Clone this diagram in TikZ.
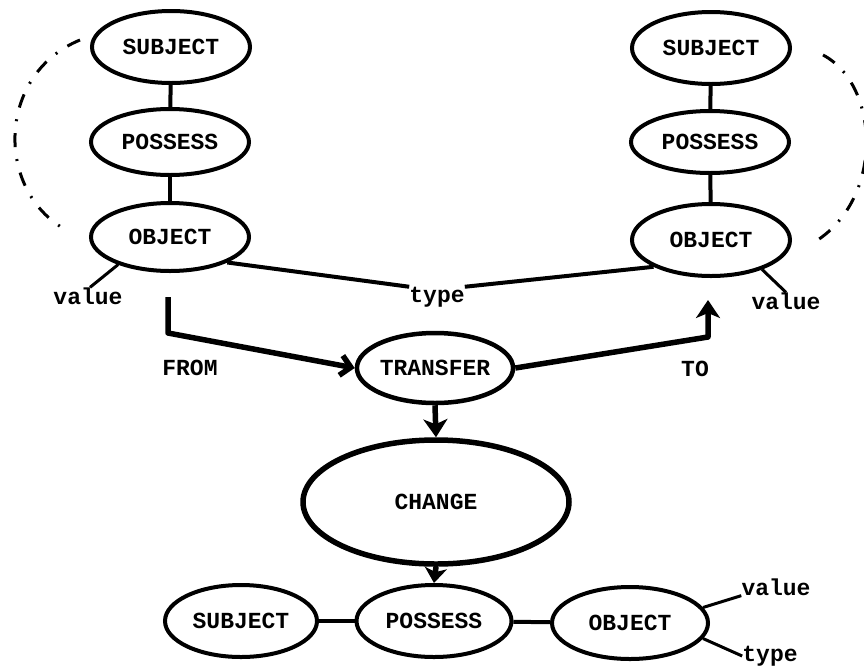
\documentclass[tikz,border=0pt]{standalone}
\usepackage{fontspec}
\setmonofont{Liberation Mono}
\usetikzlibrary{shapes.geometric,arrows.meta}
\begin{document}
\begin{tikzpicture}[x=1pt,y=-1pt,
  every node/.style={font=\ttfamily\bfseries\fontsize{23}{26}\selectfont},
  ell/.style={ellipse,draw,line width=4pt,inner sep=0pt,minimum width=158pt,minimum height=70pt},
  lbl/.style={inner sep=0pt},
  link/.style={line width=4pt},
  thinlink/.style={line width=3pt},
  heavy/.style={line width=5.5pt,line join=round},
  orbit/.style={line width=3pt,dash pattern=on 14pt off 12pt on 2pt off 12pt},
  barb/.style={-{Straight Barb[length=10pt,width=20pt]}},
  fat/.style={-{Stealth[length=18pt,width=24pt,inset=5pt]}}]
\useasboundingbox (0,0) rectangle (864,667);
\clip (0,0) rectangle (864,667);

% top left column
\node[ell,minimum height=72pt] (ls) at (171,47) {SUBJECT};
\node[ell,minimum height=66pt] (lp) at (170,142) {POSSESS};
\node[ell,minimum height=68pt] (lo) at (170,237) {OBJECT};
% top right column
\node[ell,minimum height=72pt] (rs) at (711,48) {SUBJECT};
\node[ell,minimum height=62pt] (rp) at (710,142) {POSSESS};
\node[ell,minimum height=72pt] (ro) at (711,240) {OBJECT};
% middle
\node[ell,line width=4.5pt,minimum width=156pt,minimum height=70pt] (tr) at (435,368) {TRANSFER};
\node[ell,line width=5.5pt,minimum width=266pt,minimum height=124pt] (ch) at (436,502) {CHANGE};
% bottom row
\node[ell,minimum width=152pt,minimum height=72pt] (bs) at (241,621) {SUBJECT};
\node[ell,minimum width=155pt,minimum height=72pt] (bp) at (434,621) {POSSESS};
\node[ell,minimum width=156pt,minimum height=72pt] (bo) at (630,623) {OBJECT};

% labels
\node[lbl] (lval) at (88,296) {value};
\node[lbl] (rval) at (786,301) {value};
\node[lbl] (lty) at (437,297) {type};
\node[lbl] (from) at (190,368) {FROM};
\node[lbl] (to) at (695,369) {TO};
\node[lbl] (bval) at (776,587) {value};
\node[lbl] (bty) at (770,656) {type};

% vertical links
\draw[link] (ls) -- (lp);
\draw[link] (lp) -- (lo);
\draw[link] (rs) -- (rp);
\draw[link] (rp) -- (ro);
\draw[link] (bs) -- (bp);
\draw[link] (bp) -- (bo);

% value / type lines
\draw[thinlink] (lo.208) -- ([xshift=2pt]lval.north);
\draw[thinlink] (ro.330) -- (rval.north);
\draw[link] (lo.336) -- (lty.north west);
\draw[link] (lty.north east) -- (ro.205);
\draw[thinlink] (bo.12) -- (bval.south west);
\draw[thinlink] (bo.-12) -- (bty.west);

% FROM / TO
\coordinate (fs) at (168,297);
\draw[heavy,barb] (fs) -- ++(0,36) -- (tr.west);
\coordinate (te) at (708,300);
\draw[heavy,fat] (tr.east) -- (708,337) -- (te);

% down arrows
\draw[heavy,fat] (tr.south) -- (ch.north);
\draw[heavy,-{Stealth[length=15pt,width=22pt,inset=4pt]}] (ch.south) -- (bp.north);

% dash-dot enclosures
\coordinate (la1) at (80,40);
\coordinate (la2) at (70,232);
\draw[orbit] (la1) .. controls (-5,75) and (-5,195) .. (la2);
\coordinate (ra1) at (823,55);
\coordinate (ra2) at (813,243);
\draw[orbit] (ra1) .. controls (880,85) and (885,200) .. (ra2);
\end{tikzpicture}
\end{document}
